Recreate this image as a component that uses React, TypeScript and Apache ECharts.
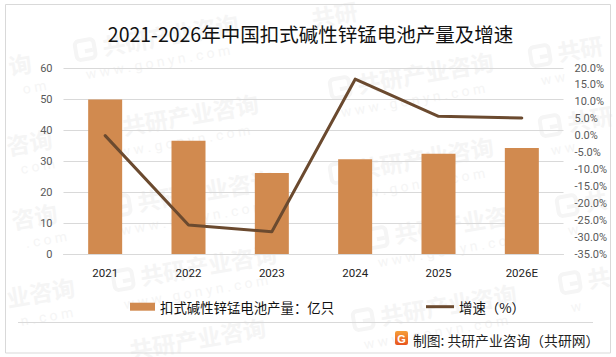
import React, { useEffect, useRef } from "react";
import * as echarts from "echarts";

const categories = ["2021", "2022", "2023", "2024", "2025", "2026E"];
const output = [49.8, 36.5, 26.1, 30.6, 32.3, 34.2];
const growth = [0, -26.4, -28.4, 16.7, 5.7, 5.2];
const titleText = "2021-2026年中国扣式碱性锌锰电池产量及增速";
const barName = "扣式碱性锌锰电池产量：亿只";
const lineName = "增速（%）";
const sourceText = "制图: 共研产业咨询（共研网）";
const wmEn = "w w w . g o n y n . c o m";

// background watermark stamps: [x, y, logo?, chinese text, latin text]
const stamps: [number, number, boolean, string, string][] = [
  [80, 52, true, "共研产业咨询", wmEn],
  [335, 90, true, "共研产业咨询", wmEn],
  [535, 58, true, "共研", "w w"],
  [545, 128, true, "共研", "w w"],
  [9, 68, false, "询", "o m"],
  [7, 148, false, "咨询", "c o m"],
  [100, 132, true, "共研产业咨询", wmEn],
  [335, 175, true, "共研产业咨询", wmEn],
  [115, 208, true, "共研产业咨询", wmEn],
  [12, 222, false, "咨询", ". c o m"],
  [118, 282, true, "共研产业咨询", wmEn],
  [372, 240, true, "共研产业咨询", wmEn],
  [358, 322, true, "共研产业咨询", wmEn],
  [562, 208, true, "共", "w"],
  [565, 285, true, "共", "w"],
  [7, 300, false, "业咨询", "n . c o m"],
  [130, 352, false, "共研产业咨询", ""],
  [312, 20, false, "共研", ""],
];

const FONT = '"Noto Sans CJK SC", sans-serif';
const LATIN = 'Roboto, "Open Sans", sans-serif';
const WM = "#f5f5f5";

export default function App() {
  const ref = useRef<HTMLDivElement>(null);
  useEffect(() => {
    const chart = echarts.init(ref.current!, null, { renderer: "svg" });
    const watermarks = stamps.map(([x, y, logo, cn, en]) => ({
      type: "group",
      x,
      y,
      rotation: 0.17,
      silent: true,
      z: 0,
      children: [
        ...(logo
          ? [
              {
                type: "rect",
                shape: { x: -4, y: -11, width: 19, height: 19, r: 4 },
                style: { fill: "none", stroke: WM, lineWidth: 4 },
              },
              { type: "rect", shape: { x: 5, y: -2, width: 8, height: 4 }, style: { fill: WM } },
            ]
          : []),
        {
          type: "text",
          x: logo ? 23 : 0,
          y: -14,
          style: { text: cn, font: `bold 23px ${FONT}`, fill: WM },
        },
        {
          type: "text",
          x: logo ? 2 : 10,
          y: 16,
          style: { text: en, font: `14px ${LATIN}`, fill: WM },
        },
      ],
    }));
    chart.setOption({
      animation: false,
      backgroundColor: "#ffffff",
      title: {
        text: titleText,
        left: 305.5,
        top: 19,
        textAlign: "center",
        textStyle: { fontFamily: FONT, fontSize: 19.5, fontWeight: "normal", color: "#111111" },
      },
      grid: { left: 63.5, right: 52.5, top: 68, height: 186, containLabel: false },
      legend: [
        {
          top: 295,
          left: 125,
          itemWidth: 25,
          itemHeight: 8,
          textStyle: { fontFamily: FONT, fontSize: 13.4, color: "#111111" },
          data: [{ name: barName, icon: "rect" }],
        },
        {
          top: 295,
          left: 421,
          itemWidth: 28,
          itemHeight: 3,
          textStyle: { fontFamily: FONT, fontSize: 13.4, color: "#111111" },
          data: [{ name: lineName, icon: "path://M0 0H28V3H0Z" }],
        },
      ],
      xAxis: {
        type: "category",
        data: categories,
        axisLine: { lineStyle: { color: "#d9d9d9", width: 1 } },
        axisTick: { show: false },
        axisLabel: { color: "#222222", fontSize: 11.5, margin: 13, fontFamily: LATIN },
      },
      yAxis: [
        {
          type: "value",
          min: 0,
          max: 60,
          interval: 10,
          axisLine: { show: false },
          axisTick: { show: false },
          axisLabel: { color: "#595959", fontSize: 11, margin: 11, fontFamily: LATIN },
          splitLine: { lineStyle: { color: "#d9d9d9", width: 1 } },
        },
        {
          type: "value",
          min: -35,
          max: 20,
          interval: 5,
          axisLine: { show: false },
          axisTick: { show: false },
          axisLabel: {
            color: "#595959",
            fontSize: 11,
            margin: 11,
            align: "left",
            fontFamily: LATIN,
            formatter: (v: number) => v.toFixed(1) + "%",
          },
          splitLine: { show: false },
        },
      ],
      series: [
        {
          name: barName,
          type: "bar",
          data: output,
          barWidth: 34,
          itemStyle: { color: "#d18a4f" },
          z: 2,
        },
        {
          name: lineName,
          type: "line",
          yAxisIndex: 1,
          data: growth,
          showSymbol: false,
          symbol: "none",
          lineStyle: { color: "#6b4a2f", width: 3, cap: "round", join: "round" },
          itemStyle: { color: "#6b4a2f" },
          z: 3,
        },
      ],
      graphic: [
        ...watermarks,
        {
          type: "rect",
          silent: true,
          z: 1,
          shape: { x: 5.5, y: 4.5, width: 605, height: 348.5 },
          style: { fill: "transparent", stroke: "#d9d9d9", lineWidth: 1 },
        },
        {
          type: "line",
          silent: true,
          z: 1,
          shape: { x1: 18, y1: 322.5, x2: 593, y2: 322.5 },
          style: { stroke: "#d9d9d9", lineWidth: 1 },
        },
        {
          type: "rect",
          z: 5,
          shape: { x: 395, y: 331, width: 13, height: 14, r: 2 },
          style: {
            fill: new echarts.graphic.LinearGradient(0, 0, 0, 1, [
              { offset: 0, color: "#f5a03a" },
              { offset: 1, color: "#e8541e" },
            ]),
          },
        },
        {
          type: "text",
          z: 5,
          x: 401.5,
          y: 338.5,
          style: {
            text: "G",
            font: 'bold 11px "Liberation Sans"',
            fill: "#ffffff",
            align: "center",
            verticalAlign: "middle",
          },
        },
        {
          type: "text",
          z: 5,
          x: 413,
          y: 339.5,
          style: {
            text: sourceText,
            font: `13.8px ${FONT}`,
            fill: "#222222",
            verticalAlign: "middle",
          },
        },
      ],
    });
    return () => chart.dispose();
  }, []);
  return <div ref={ref} style={{ position: "fixed", left: 0, top: 0, width: 616, height: 357 }} />;
}
